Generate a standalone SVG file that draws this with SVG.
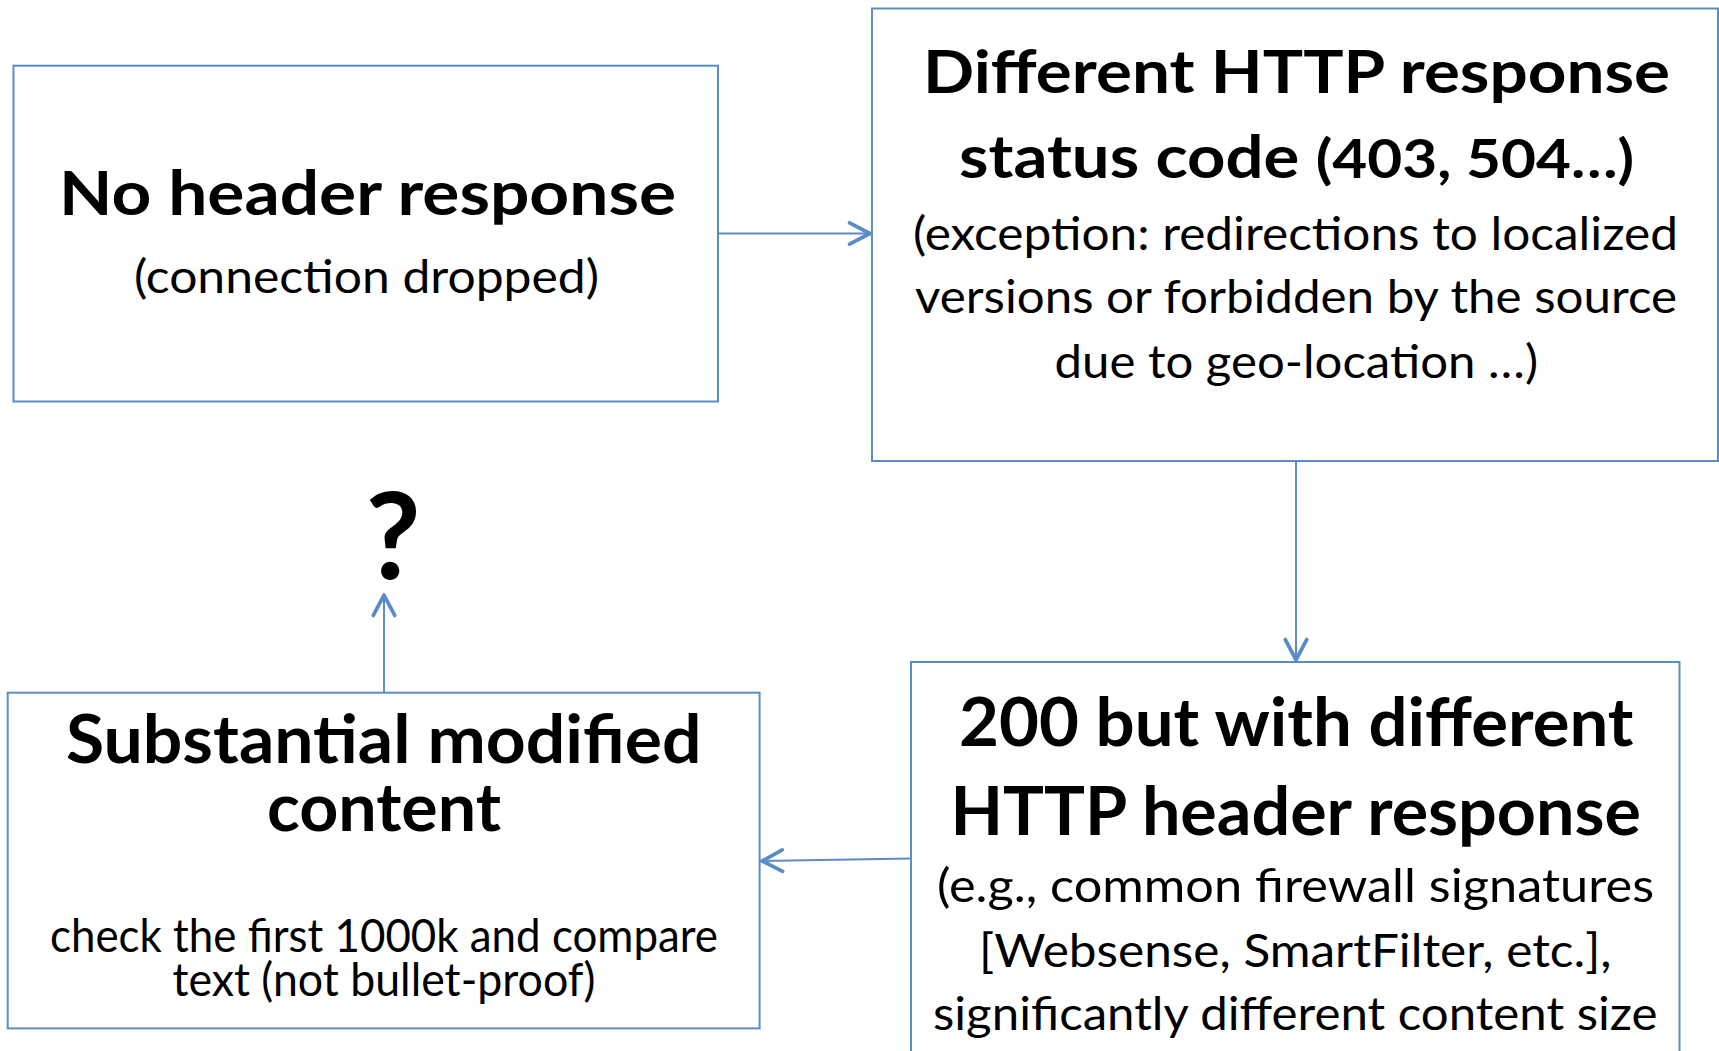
<svg xmlns="http://www.w3.org/2000/svg" width="1719" height="1051" viewBox="0 0 1719 1051">
<style>
.box{fill:#fff;stroke:#5b8cc8;stroke-width:2}
.b{font-family:Lato,"Liberation Sans",sans-serif;font-weight:bold;fill:#000}
.r{font-family:Lato,"Liberation Sans",sans-serif;font-weight:normal;fill:#000}
.c{fill:none;stroke:#5b8cc8;stroke-width:2}
</style>
<defs>
<marker id="ah" markerUnits="userSpaceOnUse" markerWidth="30" markerHeight="30" viewBox="-24 -14 28 28" refX="1" refY="0" orient="auto">
<path d="M-19,-10 L0,0 L-19,10" fill="none" stroke="#5b8cc8" stroke-width="3.5" stroke-linecap="round" stroke-linejoin="round"/>
</marker>
</defs>
<rect width="1719" height="1051" fill="#fff"/>
<g id="connectors">
<line class="c" x1="718" y1="233.5" x2="871" y2="233.5" marker-end="url(#ah)"/>
<line class="c" x1="1296" y1="461" x2="1296" y2="661" marker-end="url(#ah)"/>
<line class="c" x1="911" y1="858.5" x2="761" y2="861" marker-end="url(#ah)"/>
<line class="c" x1="384" y1="692.7" x2="384" y2="594" marker-end="url(#ah)"/>
</g>
<g id="node-no-header">
<rect class="box" x="13.5" y="65.7" width="704.5" height="335.8"/>
<text class="b" x="59" y="214.5" font-size="62" textLength="617" lengthAdjust="spacingAndGlyphs">No header response</text>
<text class="r" x="134" y="293" font-size="46" textLength="465" lengthAdjust="spacingAndGlyphs">(connection dropped)</text>
</g>
<g id="node-status-code">
<rect class="box" x="872" y="8.5" width="846" height="452.5"/>
<text class="b" x="923" y="93" font-size="60" textLength="747" lengthAdjust="spacingAndGlyphs">Different HTTP response</text>
<text class="b" x="959" y="178" font-size="60" textLength="675" lengthAdjust="spacingAndGlyphs">status code <tspan font-size="54">(403, 504…)</tspan></text>
<text class="r" x="913" y="249.5" font-size="46" textLength="765" lengthAdjust="spacingAndGlyphs">(exception: redirections to localized</text>
<text class="r" x="915" y="313" font-size="46" textLength="762" lengthAdjust="spacingAndGlyphs">versions or forbidden by the source</text>
<text class="r" x="1054.5" y="377.5" font-size="46" textLength="483.5" lengthAdjust="spacingAndGlyphs">due to geo-location …)</text>
</g>
<g id="node-200-header">
<rect class="box" x="911" y="662" width="768.5" height="400"/>
<text class="b" x="959" y="746" font-size="66" textLength="674.5" lengthAdjust="spacingAndGlyphs">200 but with different</text>
<text class="b" x="950.5" y="835" font-size="66" textLength="690.5" lengthAdjust="spacingAndGlyphs">HTTP header response</text>
<text class="r" x="937" y="901.6" font-size="46" textLength="717" lengthAdjust="spacingAndGlyphs">(e.g., common firewall signatures</text>
<text class="r" x="979" y="966.5" font-size="46" textLength="632.6" lengthAdjust="spacingAndGlyphs">[Websense, SmartFilter, etc.],</text>
<text class="r" x="933" y="1030.2" font-size="46" textLength="724.6" lengthAdjust="spacingAndGlyphs">significantly different content size</text>
</g>
<g id="node-modified-content">
<rect class="box" x="7.7" y="692.7" width="751.9" height="335.7"/>
<text class="b" x="66" y="762.7" font-size="66" textLength="635.5" lengthAdjust="spacingAndGlyphs">Substantial modified</text>
<text class="b" x="267" y="831.2" font-size="66" textLength="234" lengthAdjust="spacingAndGlyphs">content</text>
<text class="r" x="50" y="951.7" font-size="46" textLength="668" lengthAdjust="spacingAndGlyphs">check the first 1000k and compare</text>
<text class="r" x="172.5" y="996.1" font-size="46" textLength="423" lengthAdjust="spacingAndGlyphs">text (not bullet-proof)</text>
</g>
<g id="node-question">
<text class="b" x="393" y="579" font-size="120" text-anchor="middle">?</text>
</g>
</svg>
